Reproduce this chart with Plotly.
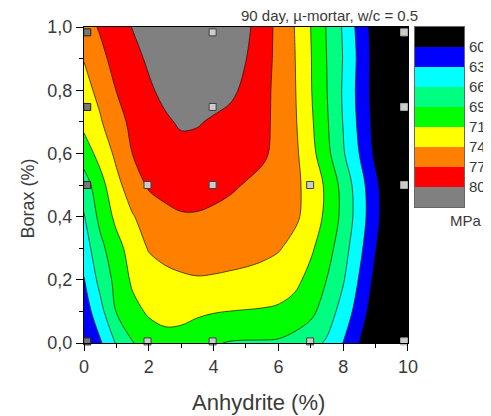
import plotly.graph_objects as go

# ---- data ----
anhydrite = [0, 0.5, 1, 1.5, 2, 2.5, 3, 3.5, 4, 4.5, 5, 5.5, 6, 6.5, 7, 7.5, 8, 8.5, 9, 9.5, 10]
borax = [0.0, 0.1, 0.2, 0.3, 0.4, 0.5, 0.6, 0.7, 0.8, 0.9, 1.0]

# compressive strength (MPa), one row per borax value
s_b00 = [59.8, 62.5, 66.0, 68.45, 69.9, 70.5, 70.3, 69.6, 68.8, 68.4, 68.3, 68.3, 68.2, 67.6, 66.6, 65.36, 62.8, 59.95, 57.5, 55.5, 54.0]
s_b01 = [61.3, 64.8, 68.7, 70.6, 71.8, 72.3, 72.3, 71.9, 71.6, 71.4, 71.3, 71.2, 71.0, 70.3, 69.3, 67.1, 64.6, 61.5, 58.3, 56.2, 54.8]
s_b02 = [62.7, 66.6, 69.4, 71.9, 72.8, 73.5, 73.9, 74.1, 74.0, 73.8, 73.6, 73.3, 72.9, 72.2, 70.5, 68.5, 65.96, 62.6, 59.2, 56.8, 55.3]
s_b03 = [64.3, 67.75, 70.5, 72.6, 74.5, 75.2, 75.5, 75.6, 75.6, 75.5, 75.3, 75.0, 74.5, 73.5, 71.9, 69.7, 66.9, 63.6, 60.1, 57.3, 55.8]
s_b04 = [65.5, 69.4, 72.1, 74.1, 75.5, 76.4, 76.9, 76.9, 76.7, 76.4, 76.0, 75.6, 75.2, 74.8, 73.2, 70.7, 67.8, 64.3, 60.8, 57.6, 56.0]
s_b05 = [67.2, 70.4, 73.5, 75.8, 77.5, 78.1, 78.4, 78.4, 77.9, 77.5, 77.0, 76.4, 75.6, 74.8, 73.5, 70.8, 67.6, 64.1, 60.6, 57.5, 55.9]
s_b06 = [70.0, 72.4, 74.9, 77.2, 78.0, 78.6, 79.1, 79.1, 78.8, 78.5, 78.1, 77.6, 76.4, 74.9, 72.4, 69.3, 66.0, 62.8, 59.4, 57.8, 56.3]
s_b07 = [72.2, 74.0, 76.3, 77.7, 78.5, 79.6, 80.35, 80.2, 79.7, 79.2, 78.5, 77.8, 76.5, 74.65, 71.9, 68.85, 65.6, 62.25, 59.0, 57.5, 56.0]
s_b08 = [73.3, 75.1, 77.2, 78.3, 79.6, 80.7, 81.1, 81.2, 81.1, 80.6, 79.4, 78.0, 76.4, 74.5, 71.6, 68.6, 65.4, 62.0, 58.8, 57.3, 55.8]
s_b09 = [74.4, 76.5, 78.0, 79.2, 80.4, 81.0, 81.4, 81.5, 81.4, 81.0, 80.05, 78.3, 76.45, 74.4, 71.55, 68.5, 65.6, 62.2, 58.8, 57.2, 55.7]
s_b10 = [76.1, 77.4, 78.8, 80.1, 81.0, 81.6, 82.0, 82.1, 82.0, 81.5, 80.6, 78.6, 76.4, 74.25, 71.4, 68.34, 65.4, 61.86, 58.6, 57.0, 55.5]
strength = [s_b00, s_b01, s_b02, s_b03, s_b04, s_b05, s_b06, s_b07, s_b08, s_b09, s_b10]

level_start = 60
level_end = 80
n_steps = 7
level_labels = ["60", "63", "66", "69", "71", "74", "77", "80"]
band_colors = ["#000000", "#0000FF", "#00FFFF", "#00FF80", "#00FF00",
               "#FFFF00", "#FF8000", "#FF0000", "#808080"]

# measured sample points
pts_x = [0.1, 0.1, 0.1, 0.1, 1.96, 1.96, 3.97, 3.97, 3.97, 3.97, 6.98, 6.98, 9.88, 9.88, 9.88, 9.88]
pts_y = [0.983, 0.747, 0.5, 0.005, 0.5, 0.005, 0.983, 0.747, 0.5, 0.005, 0.5, 0.005, 0.983, 0.747, 0.5, 0.005]

# ---- figure ----
n_bands = len(band_colors)
colorscale = [[i / (n_bands - 1), c] for i, c in enumerate(band_colors)]
step = (level_end - level_start) / n_steps

font_family = "Liberation Sans, Arial, sans-serif"
txt_col = "#3a3a3a"

fig = go.Figure()

fig.add_trace(go.Contour(
    x=anhydrite, y=borax, z=strength,
    autocontour=False,
    contours=dict(start=level_start, end=level_end + 0.001, size=step,
                  coloring="fill", showlines=True),
    colorscale=colorscale,
    line=dict(color="#111111", width=0.7, smoothing=1.0),
    showscale=False,
    xaxis="x", yaxis="y",
))

pt_fill = ["#777777" if x < 1 else "#cccccc" for x in pts_x]
pt_line = ["#222222" if x < 1 else ("#aaaaaa" if x > 9 else "#404040") for x in pts_x]
fig.add_trace(go.Scatter(
    x=pts_x, y=pts_y, mode="markers",
    marker=dict(symbol="square", size=7, color=pt_fill,
                line=dict(color=pt_line, width=1)),
    cliponaxis=False, showlegend=False, hoverinfo="skip",
    xaxis="x", yaxis="y",
))

# legend bar (black at top, gray at bottom)
legend_idx = list(range(n_bands))
fig.add_trace(go.Heatmap(
    x=[0], y=legend_idx, z=[[i] for i in legend_idx],
    zmin=0, zmax=n_bands - 1, colorscale=colorscale, showscale=False,
    xaxis="x2", yaxis="y2", hoverinfo="skip",
))

fig.update_layout(
    width=483, height=408,
    margin=dict(l=76, r=27, t=19, b=73, autoexpand=False),
    paper_bgcolor="white", plot_bgcolor="white",
    font=dict(family=font_family, color=txt_col),
    showlegend=False,
    xaxis=dict(
        domain=[0, 0.8526], range=[0, 10],
        tickmode="array", tickvals=[0, 2, 4, 6, 8, 10],
        ticks="outside", ticklen=7, tickwidth=1, tickcolor="black",
        minor=dict(tickvals=[1, 3, 5, 7, 9], ticks="outside", ticklen=4, tickcolor="black"),
        showline=True, linecolor="black", linewidth=1, mirror=True,
        showgrid=False, zeroline=False,
        tickfont=dict(size=18, color=txt_col),
    ),
    yaxis=dict(
        domain=[0, 1], range=[0, 1],
        tickmode="array", tickvals=[0, 0.2, 0.4, 0.6, 0.8, 1.0],
        ticktext=["0,0", "0,2", "0,4", "0,6", "0,8", "1,0"],
        ticks="outside", ticklen=7, tickwidth=1, tickcolor="black",
        minor=dict(tickvals=[0.1, 0.3, 0.5, 0.7, 0.9], ticks="outside", ticklen=4, tickcolor="black"),
        showline=True, linecolor="black", linewidth=1, mirror=True,
        showgrid=False, zeroline=False,
        tickfont=dict(size=18, color=txt_col),
    ),
    xaxis2=dict(
        domain=[0.8711, 1.0], anchor="y2", range=[-0.5, 0.5],
        showticklabels=False, ticks="", showgrid=False, zeroline=False,
        showline=True, linecolor="#666666", linewidth=1, mirror=True,
    ),
    yaxis2=dict(
        domain=[0.4304, 1.0], anchor="x2", range=[n_bands - 0.5, -0.5],
        side="right", tickmode="array",
        tickvals=[i + 0.5 for i in range(len(level_labels))],
        ticktext=level_labels,
        ticks="outside", ticklen=1, tickcolor="rgba(0,0,0,0)",
        showgrid=False, zeroline=False,
        showline=True, linecolor="#666666", linewidth=1, mirror=True,
        tickfont=dict(size=15, color=txt_col),
    ),
    annotations=[
        dict(text="Anhydrite (%)", xref="paper", yref="paper", x=0.458, y=-0.187,
             xanchor="center", yanchor="middle", showarrow=False,
             font=dict(size=22, color=txt_col)),
        dict(text="Borax (%)", xref="paper", yref="paper", x=-0.1487, y=0.459,
             xanchor="center", yanchor="middle", showarrow=False, textangle=-90,
             font=dict(size=18, color=txt_col)),
        dict(text="90 day, µ-mortar, w/c = 0.5", xref="paper", yref="paper",
             x=0.647, y=1.035, xanchor="center", yanchor="middle", showarrow=False,
             font=dict(size=15, color=txt_col)),
        dict(text="MPa", xref="paper", yref="paper", x=0.958, y=0.389,
             xanchor="left", yanchor="middle", showarrow=False,
             font=dict(size=15, color=txt_col)),
    ],
)

fig.write_html("out.html")
